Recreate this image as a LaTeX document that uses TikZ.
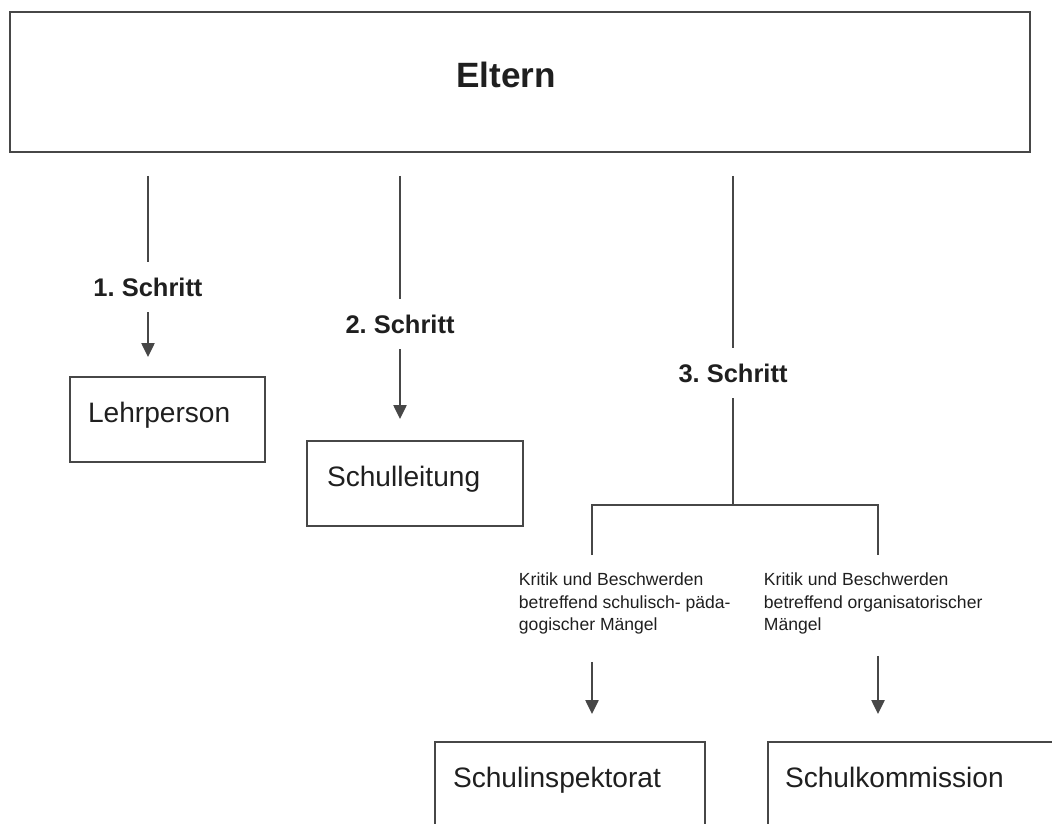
\documentclass[tikz,border=0pt]{standalone}
\usepackage{fontspec}
\setmainfont{Liberation Sans}
\frenchspacing
\usetikzlibrary{arrows.meta,calc,positioning}
\colorlet{penColor}{black!72}
\colorlet{txtColor}{black!88}
\tikzset{>={Triangle[length=8pt,width=7.5pt]}}
\tikzset{
  box/.style={draw=penColor, line width=1.1pt, rectangle, inner sep=0pt},
  boxtext/.style={anchor=base west, inner sep=0pt, text=txtColor, font=\fontsize{16}{19}\selectfont},
  steplabel/.style={inner xsep=2pt, inner ysep=8.5pt, text=txtColor, font=\fontsize{14.5}{17}\selectfont\bfseries},
  note/.style={anchor=north west, inner sep=0pt, text=txtColor, align=left, font=\fontsize{10}{12.7}\selectfont},
}

\begin{document}
\begin{tikzpicture}[x=0.02cm, y=-0.02cm, penColor, line width=1.1pt]
\useasboundingbox (0,0) rectangle (1052,823);
% boxes
\node[box, minimum width=20.4cm, minimum height=2.8cm] (eltern) at (520,82) {};
\node[font=\fontsize{20}{24}\selectfont\bfseries, text=txtColor] (elterntxt) at (506,75) {Eltern};
\node[box, minimum width=3.9cm, minimum height=1.7cm] (lehrperson) at (167.5,419.5) {};
\node[box, minimum width=4.32cm, minimum height=1.7cm] (schulleitung) at (415,483.5) {};
\node[box, minimum width=5.4cm, minimum height=2cm] (inspektorat) at (570,792) {};
\node[box, minimum width=6cm, minimum height=2cm] (kommission) at (918,792) {};
\node[boxtext] (lehrpersontxt) at ($(lehrperson.north west)+(18,46)$) {Lehrperson};
\node[boxtext] (schulleitungtxt) at ($(schulleitung.north west)+(20,46)$) {Schulleitung};
\node[boxtext] (inspektorattxt) at ($(inspektorat.north west)+(18,46)$) {Schulinspektorat};
\node[boxtext] (kommissiontxt) at ($(kommission.north west)+(17,46)$) {Schulkommission};
% steps
\node[steplabel] (s1) at (148,287) {1. Schritt};
\node[steplabel] (s2) at (400,324) {2. Schritt};
\node[steplabel] (s3) at (733,373) {3. Schritt};
\draw[shorten <=0.46cm] (eltern.south -| s1) -- (s1.north);
\draw[->, shorten >=0.38cm] (s1.south) -- (lehrperson.north -| s1);
\draw[shorten <=0.46cm] (eltern.south -| s2) -- (s2.north);
\draw[->, shorten >=0.42cm] (s2.south) -- (schulleitung.north -| s2);
\draw[shorten <=0.46cm] (eltern.south -| s3) -- (s3.north);
% fork
\coordinate (fork) at (733,505);
\coordinate (forkL) at (592,555);
\coordinate (forkR) at (878,555);
\draw (s3.south) -- (fork);
\draw (forkL) |- (fork) -| (forkR);
\node[note] (critpaed) at (518,572) {Kritik und Beschwerden\\betreffend schulisch- päda-\\gogischer Mängel};
\node[note] (critorg) at (763,572) {Kritik und Beschwerden\\betreffend organisatorischer\\Mängel};
\draw[->, shorten <=0.54cm, shorten >=0.54cm] (critpaed.south -| forkL) -- (inspektorat.north -| forkL);
\draw[->, shorten <=0.42cm, shorten >=0.54cm] (critorg.south -| forkR) -- (kommission.north -| forkR);
\end{tikzpicture}
\end{document}
